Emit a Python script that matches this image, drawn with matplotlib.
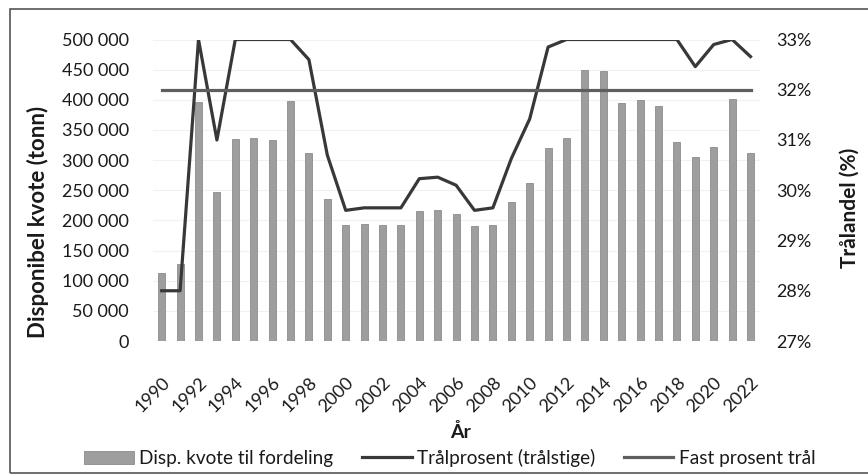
import matplotlib.pyplot as plt
from matplotlib.patches import Rectangle
from matplotlib.ticker import FuncFormatter, MultipleLocator

plt.rcParams['font.family'] = ['Lato', 'DejaVu Sans']

years = list(range(1990, 2023))
kvote = [112000, 128000, 396000, 247000, 335000, 337000, 334000, 398000, 312000, 235000,
         192000, 194000, 193000, 193000, 215000, 217000, 211000, 190000, 193000, 230000,
         262000, 320000, 337000, 450000, 448000, 394000, 399000, 390000, 330000, 305000,
         321000, 401000, 312000]
tral_pct = [28.0, 28.0, 33.0, 31.0, 33.0, 33.0, 33.0, 33.0, 32.6, 30.7,
            29.6, 29.65, 29.65, 29.65, 30.23, 30.26, 30.1, 29.6, 29.65, 30.63,
            31.42, 32.85, 33.0, 33.0, 33.0, 33.0, 33.0, 33.0, 33.0, 32.46,
            32.9, 33.0, 32.66]
fast_pct = [32.0] * len(years)

W, H = 868, 475
fig = plt.figure(figsize=(W / 100, H / 100), dpi=100)
ax = fig.add_axes([152.5 / W, 134 / H, 607.2 / W, 301.5 / H])
ax2 = ax.twinx()

bars = ax.bar(years, kvote, width=0.38, color='#9e9e9e', edgecolor='#8c8c8c', linewidth=0.6,
              label='Disp. kvote til fordeling', zorder=2)
ax.set_ylim(0, 500000)
ax.set_xlim(1989.5, 2022.5)
ax.yaxis.set_major_locator(MultipleLocator(50000))
ax.yaxis.set_major_formatter(FuncFormatter(lambda v, p: '{:,.0f}'.format(v).replace(',', ' ')))
ax.grid(axis='y', color='#f1f1f1', linewidth=0.8, zorder=0)
ax.set_axisbelow(True)
ax.set_xticks(years[::2])
ax.tick_params(axis='y', length=0, pad=17, labelsize=13, labelcolor='#1a1a1a')
ax.tick_params(axis='x', length=0, pad=24, labelsize=13, labelcolor='#1a1a1a')
for lab in ax.get_xticklabels():
    lab.set_rotation(45)
    lab.set_ha('right')
    lab.set_va('top')
    lab.set_rotation_mode('anchor')

l1, = ax2.plot(years, tral_pct, color='#383838', linewidth=2.3, label='Trålprosent (trålstige)', zorder=3)
l2, = ax2.plot(years, fast_pct, color='#5e5e5e', linewidth=2.3, label='Fast prosent trål', zorder=3)
ax2.set_ylim(27, 33)
ax2.yaxis.set_major_locator(MultipleLocator(1))
ax2.yaxis.set_major_formatter(FuncFormatter(lambda v, p: '{:.0f}%'.format(v)))
ax2.tick_params(axis='y', length=0, pad=12, labelsize=13, labelcolor='#1a1a1a')

for a in (ax, ax2):
    for s in a.spines.values():
        s.set_visible(False)
ax.axhline(0, color='#e2e2e2', linewidth=0.8, zorder=1)

fig.text(38 / W, 1 - 222 / H, 'Disponibel kvote (tonn)', rotation=90, ha='center', va='center',
         fontsize=16, fontweight='bold', color='#1a1a1a')
fig.text(850 / W, 1 - 208 / H, 'Trålandel (%)', rotation=90, ha='center', va='center',
         fontsize=15, fontweight='bold', color='#1a1a1a')
fig.text(461 / W, 1 - 432 / H, 'År', ha='center', va='center',
         fontsize=14, fontweight='bold', color='#1a1a1a')

fig.legend([bars, l1, l2], [bars.get_label(), l1.get_label(), l2.get_label()],
           loc='center', bbox_to_anchor=(450 / W, 1 - 458 / H), ncol=3, frameon=False,
           fontsize=13.7, handlelength=2.6, handletextpad=0.3, columnspacing=1.5,
           borderpad=0, labelcolor='#1a1a1a')

fig.patches.append(Rectangle((10 / W, 2 / H), 1.0, 464 / H, transform=fig.transFigure,
                             fill=False, edgecolor='#555555', linewidth=1.2))

fig.savefig('out.png', dpi=100)
